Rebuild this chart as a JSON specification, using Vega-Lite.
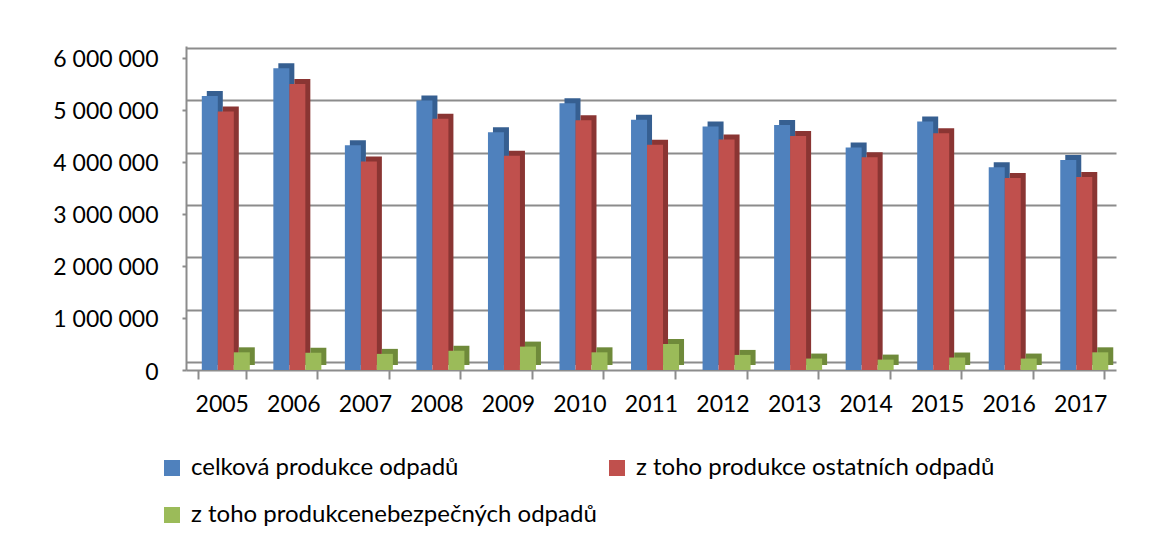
{
  "$schema": "https://vega.github.io/schema/vega-lite/v6.json",
  "autosize": "none",
  "width": 930,
  "height": 324,
  "padding": {"left": 186, "top": 46, "right": 58, "bottom": 175},
  "background": "white",
  "config": {
    "font": "Lato",
    "view": {"stroke": null},
    "locale": {"number": {"decimal": ",", "thousands": " ", "grouping": [3], "currency": ["", ""]}}
  },
  "data": {
    "values": [
      {"year": "2005", "series": "celková produkce odpadů", "value": 5270000},
      {"year": "2005", "series": "z toho produkce ostatních odpadů", "value": 4970000},
      {"year": "2005", "series": "z toho produkcenebezpečných odpadů", "value": 340000},
      {"year": "2006", "series": "celková produkce odpadů", "value": 5800000},
      {"year": "2006", "series": "z toho produkce ostatních odpadů", "value": 5500000},
      {"year": "2006", "series": "z toho produkcenebezpečných odpadů", "value": 330000},
      {"year": "2007", "series": "celková produkce odpadů", "value": 4320000},
      {"year": "2007", "series": "z toho produkce ostatních odpadů", "value": 4010000},
      {"year": "2007", "series": "z toho produkcenebezpečných odpadů", "value": 310000},
      {"year": "2008", "series": "celková produkce odpadů", "value": 5180000},
      {"year": "2008", "series": "z toho produkce ostatních odpadů", "value": 4830000},
      {"year": "2008", "series": "z toho produkcenebezpečných odpadů", "value": 370000},
      {"year": "2009", "series": "celková produkce odpadů", "value": 4570000},
      {"year": "2009", "series": "z toho produkce ostatních odpadů", "value": 4120000},
      {"year": "2009", "series": "z toho produkcenebezpečných odpadů", "value": 450000},
      {"year": "2010", "series": "celková produkce odpadů", "value": 5130000},
      {"year": "2010", "series": "z toho produkce ostatních odpadů", "value": 4800000},
      {"year": "2010", "series": "z toho produkcenebezpečných odpadů", "value": 340000},
      {"year": "2011", "series": "celková produkce odpadů", "value": 4810000},
      {"year": "2011", "series": "z toho produkce ostatních odpadů", "value": 4330000},
      {"year": "2011", "series": "z toho produkcenebezpečných odpadů", "value": 500000},
      {"year": "2012", "series": "celková produkce odpadů", "value": 4680000},
      {"year": "2012", "series": "z toho produkce ostatních odpadů", "value": 4430000},
      {"year": "2012", "series": "z toho produkcenebezpečných odpadů", "value": 290000},
      {"year": "2013", "series": "celková produkce odpadů", "value": 4710000},
      {"year": "2013", "series": "z toho produkce ostatních odpadů", "value": 4500000},
      {"year": "2013", "series": "z toho produkcenebezpečných odpadů", "value": 220000},
      {"year": "2014", "series": "celková produkce odpadů", "value": 4280000},
      {"year": "2014", "series": "z toho produkce ostatních odpadů", "value": 4090000},
      {"year": "2014", "series": "z toho produkcenebezpečných odpadů", "value": 200000},
      {"year": "2015", "series": "celková produkce odpadů", "value": 4780000},
      {"year": "2015", "series": "z toho produkce ostatních odpadů", "value": 4550000},
      {"year": "2015", "series": "z toho produkcenebezpečných odpadů", "value": 240000},
      {"year": "2016", "series": "celková produkce odpadů", "value": 3900000},
      {"year": "2016", "series": "z toho produkce ostatních odpadů", "value": 3690000},
      {"year": "2016", "series": "z toho produkcenebezpečných odpadů", "value": 220000},
      {"year": "2017", "series": "celková produkce odpadů", "value": 4040000},
      {"year": "2017", "series": "z toho produkce ostatních odpadů", "value": 3710000},
      {"year": "2017", "series": "z toho produkcenebezpečných odpadů", "value": 340000}
    ]
  },
  "encoding": {
    "x": {
      "field": "year", "type": "nominal", "title": null,
      "scale": {"paddingInner": 0.33, "paddingOuter": 0.165},
      "axis": {
        "labelAngle": 0, "labelFontSize": 23, "labelColor": "#000000", "labelFont": "Lato",
        "domainColor": "#8c8c8c", "domainWidth": 2, "tickColor": "#8c8c8c", "tickWidth": 2,
        "tickSize": 9, "tickBand": "extent", "labelPadding": 14, "grid": false
      }
    }
  },
  "layer": [
    {
      "mark": {"type": "point", "opacity": 0},
      "encoding": {
        "y": {
          "field": "value", "type": "quantitative",
          "scale": {"domain": [-153000, 6039000], "nice": false, "zero": false},
          "axis": {
            "orient": "right", "title": null, "labels": false, "ticks": false, "domain": false,
            "grid": true, "gridColor": "#8c8c8c", "gridWidth": 2,
            "values": [0, 1000000, 2000000, 3000000, 4000000, 5000000, 6000000]
          }
        }
      }
    },
    {
      "layer": [
        {
          "mark": {"type": "bar", "yOffset": -5},
          "encoding": {
            "xOffset": {"field": "series", "type": "nominal", "sort": ["celková produkce odpadů", "z toho produkce ostatních odpadů", "z toho produkcenebezpečných odpadů"], "scale": {"paddingInner": 0, "paddingOuter": 0, "range": [9, 57]}},
            "y": {"field": "value", "type": "quantitative"},
            "color": {
              "field": "series", "type": "nominal", "legend": null,
              "scale": {"domain": ["celková produkce odpadů", "z toho produkce ostatních odpadů", "z toho produkcenebezpečných odpadů"], "range": ["#365f91", "#8a3533", "#6f8a3a"]}
            }
          }
        },
        {
          "mark": {"type": "bar"},
          "encoding": {
            "xOffset": {"field": "series", "type": "nominal", "sort": ["celková produkce odpadů", "z toho produkce ostatních odpadů", "z toho produkcenebezpečných odpadů"], "scale": {"paddingInner": 0, "paddingOuter": 0, "range": [4, 52]}},
            "y": {
              "field": "value", "type": "quantitative",
              "scale": {"domain": [0, 6230000], "nice": false},
              "axis": {
                "title": null, "grid": false, "values": [0, 1000000, 2000000, 3000000, 4000000, 5000000, 6000000],
                "format": ",d", "labelFontSize": 23, "labelColor": "#000000", "labelFont": "Lato",
                "domainColor": "#8c8c8c", "domainWidth": 2, "tickColor": "#8c8c8c", "tickWidth": 2, "tickSize": 4,
                "labelPadding": 24, "labelOffset": 2
              }
            },
            "color": {
              "field": "series", "type": "nominal",
              "scale": {"domain": ["celková produkce odpadů", "z toho produkce ostatních odpadů", "z toho produkcenebezpečných odpadů"], "range": ["#4f81bd", "#c0504d", "#9bbb59"]},
              "legend": {
                "title": null, "orient": "none", "legendX": -26, "legendY": 410, "direction": "horizontal", "columns": 2,
                "symbolType": "square", "symbolSize": 256, "symbolStrokeWidth": 0, "symbolOpacity": 1,
                "labelFontSize": 24, "labelFont": "Lato", "labelColor": "#000000", "labelOffset": 7, "labelLimit": 600,
                "rowPadding": 23, "columnPadding": 8
              }
            }
          }
        }
      ],
      "resolve": {"scale": {"xOffset": "independent", "color": "independent"}, "legend": {"color": "independent"}}
    }
  ],
  "resolve": {"scale": {"y": "independent"}}
}
